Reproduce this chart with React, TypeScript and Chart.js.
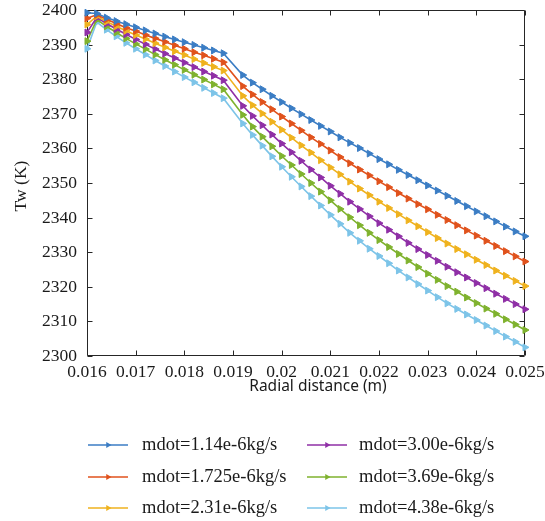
import React, { useEffect, useRef } from 'react';
import { Chart, registerables } from 'chart.js';

Chart.register(...registerables);

// ---- data ----
const radialDistance = [
  0.016, 0.0162, 0.0164, 0.0166, 0.0168, 0.017, 0.0172, 0.0174, 0.0176, 0.0178, 0.018, 0.0182, 0.0184, 0.0186, 0.0188,
  0.0192, 0.0194, 0.0196, 0.0198, 0.02, 0.0202, 0.0204, 0.0206, 0.0208, 0.021, 0.0212, 0.0214, 0.0216, 0.0218, 0.022,
  0.0222, 0.0224, 0.0226, 0.0228, 0.023, 0.0232, 0.0234, 0.0236, 0.0238, 0.024, 0.0242, 0.0244, 0.0246, 0.0248, 0.025,
];

const seriesLabels = [
  'mdot=1.14e-6kg/s',
  'mdot=1.725e-6kg/s',
  'mdot=2.31e-6kg/s',
  'mdot=3.00e-6kg/s',
  'mdot=3.69e-6kg/s',
  'mdot=4.38e-6kg/s',
];

const tw114 = [
  2399.2, 2399.0, 2397.8, 2396.8, 2395.9, 2395.0, 2394.1, 2393.2, 2392.3, 2391.5, 2390.7, 2389.9, 2389.1, 2388.3, 2387.5,
  2381.2, 2379.0, 2377.1, 2375.2, 2373.4, 2371.6, 2369.9, 2368.2, 2366.5, 2364.9, 2363.2, 2361.6, 2360.1, 2358.5, 2356.9,
  2355.4, 2353.8, 2352.3, 2350.8, 2349.3, 2347.8, 2346.3, 2344.8, 2343.3, 2341.8, 2340.4, 2338.9, 2337.4, 2336.0, 2334.6,
];
const tw1725 = [
  2397.6, 2398.6, 2397.3, 2396.1, 2394.9, 2393.9, 2392.8, 2391.8, 2390.8, 2389.8, 2388.8, 2387.8, 2386.9, 2385.9, 2384.9,
  2378.0, 2375.6, 2373.4, 2371.3, 2369.2, 2367.2, 2365.2, 2363.2, 2361.3, 2359.4, 2357.5, 2355.7, 2353.9, 2352.2, 2350.5,
  2348.8, 2347.1, 2345.5, 2343.9, 2342.4, 2340.8, 2339.3, 2337.8, 2336.3, 2334.8, 2333.3, 2331.8, 2330.3, 2328.8, 2327.3,
];
const tw231 = [
  2395.8, 2398.2, 2396.7, 2395.3, 2394.0, 2392.8, 2391.6, 2390.4, 2389.2, 2388.1, 2387.0, 2385.8, 2384.7, 2383.6, 2382.5,
  2375.2, 2372.5, 2370.1, 2367.7, 2365.4, 2363.1, 2360.9, 2358.8, 2356.6, 2354.5, 2352.5, 2350.4, 2348.4, 2346.5, 2344.6,
  2342.8, 2341.0, 2339.2, 2337.5, 2335.8, 2334.1, 2332.5, 2330.9, 2329.4, 2327.8, 2326.3, 2324.7, 2323.2, 2321.7, 2320.2,
];
const tw300 = [
  2393.5, 2397.8, 2396.1, 2394.5, 2393.0, 2391.5, 2390.1, 2388.7, 2387.4, 2386.1, 2384.8, 2383.5, 2382.2, 2381.0, 2379.7,
  2372.3, 2369.4, 2366.7, 2364.0, 2361.4, 2358.9, 2356.4, 2353.9, 2351.6, 2349.2, 2346.9, 2344.6, 2342.5, 2340.4, 2338.4,
  2336.5, 2334.6, 2332.7, 2330.9, 2329.2, 2327.5, 2325.8, 2324.2, 2322.7, 2321.1, 2319.6, 2318.0, 2316.5, 2315.0, 2313.5,
];
const tw369 = [
  2391.0, 2397.2, 2395.3, 2393.5, 2391.8, 2390.2, 2388.7, 2387.1, 2385.6, 2384.2, 2382.7, 2381.3, 2379.9, 2378.5, 2377.1,
  2369.7, 2366.3, 2363.4, 2360.6, 2357.8, 2355.2, 2352.6, 2350.0, 2347.5, 2345.0, 2342.5, 2340.1, 2337.8, 2335.6, 2333.5,
  2331.5, 2329.5, 2327.6, 2325.7, 2323.8, 2322.0, 2320.2, 2318.6, 2316.9, 2315.3, 2313.7, 2312.2, 2310.6, 2309.1, 2307.5,
];
const tw438 = [
  2388.8, 2396.5, 2394.3, 2392.4, 2390.5, 2388.8, 2387.1, 2385.4, 2383.8, 2382.2, 2380.6, 2379.1, 2377.5, 2376.0, 2374.5,
  2367.2, 2363.9, 2360.8, 2357.7, 2354.7, 2351.8, 2349.0, 2346.2, 2343.5, 2340.8, 2338.2, 2335.6, 2333.3, 2331.0, 2328.9,
  2326.8, 2324.7, 2322.7, 2320.8, 2318.9, 2317.0, 2315.2, 2313.6, 2312.0, 2310.4, 2308.8, 2307.2, 2305.6, 2304.1, 2302.5,
];

const seriesColors = ['#3b7dc4', '#e0521c', '#efb21e', '#8f2fa6', '#7fb22e', '#7dc4e8'];

const xTickValues = [0.016, 0.017, 0.018, 0.019, 0.02, 0.021, 0.022, 0.023, 0.024, 0.025];
const xTickLabels = ['0.016', '0.017', '0.018', '0.019', '0.02', '0.021', '0.022', '0.023', '0.024', '0.025'];
const yTickValues = [2300, 2310, 2320, 2330, 2340, 2350, 2360, 2370, 2380, 2390, 2400];
const yTickLabels = ['2300', '2310', '2320', '2330', '2340', '2350', '2360', '2370', '2380', '2390', '2400'];

const xTitle = 'Radial distance (m)';
const yTitle = 'Tw (K)';

const SERIF = '"Liberation Serif", serif';
const SANS = '"Noto Sans", sans-serif';
const AXIS_COLOR = '#262626';
const TEXT_COLOR = '#1a1a1a';

function drawTriangleRight(ctx: CanvasRenderingContext2D, x: number, y: number, r: number) {
  ctx.beginPath();
  ctx.moveTo(x + r, y);
  ctx.lineTo(x - r * 0.5, y - r * 0.866);
  ctx.lineTo(x - r * 0.5, y + r * 0.866);
  ctx.closePath();
  ctx.fill();
}

export default function App() {
  const canvasRef = useRef<HTMLCanvasElement | null>(null);

  useEffect(() => {
    const canvas = canvasRef.current;
    if (!canvas) return;
    const seriesValues = [tw114, tw1725, tw231, tw300, tw369, tw438];

    const datasets = seriesValues.map((vals, i) => ({
      label: seriesLabels[i],
      data: radialDistance.map((x, j) => ({ x, y: vals[j] })),
      borderColor: seriesColors[i],
      backgroundColor: seriesColors[i],
      pointBackgroundColor: seriesColors[i],
      pointBorderColor: seriesColors[i],
      borderWidth: 1.6,
      pointStyle: 'triangle',
      pointRotation: 90,
      pointRadius: 4,
      pointBorderWidth: 1,
      pointHoverRadius: 4,
      tension: 0,
      clip: false,
    }));

    const axesPlugin = {
      id: 'axesAndLegend',
      beforeDatasetsDraw(chart: any) {
        const { ctx, chartArea: a, scales } = chart;
        ctx.save();
        ctx.strokeStyle = AXIS_COLOR;
        ctx.lineWidth = 1;
        const L = Math.round(a.left) + 0.5;
        const R = Math.round(a.right) - 0.5;
        const T = Math.round(a.top) + 0.5;
        const B = Math.round(a.bottom) - 0.5;
        ctx.beginPath();
        ctx.rect(L, T, R - L, B - T);
        ctx.stroke();
        const tl = 5;
        ctx.beginPath();
        xTickValues.forEach((v) => {
          const px = Math.round(scales.x.getPixelForValue(v)) + 0.5;
          ctx.moveTo(px, B);
          ctx.lineTo(px, B - tl);
          ctx.moveTo(px, T);
          ctx.lineTo(px, T + tl);
        });
        yTickValues.forEach((v) => {
          const py = Math.round(scales.y.getPixelForValue(v)) + 0.5;
          ctx.moveTo(L, py);
          ctx.lineTo(L + tl, py);
          ctx.moveTo(R, py);
          ctx.lineTo(R - tl, py);
        });
        ctx.stroke();

        // tick labels
        ctx.fillStyle = TEXT_COLOR;
        ctx.font = `17.5px ${SERIF}`;
        ctx.textAlign = 'center';
        ctx.textBaseline = 'middle';
        xTickValues.forEach((v, i) => {
          ctx.fillText(xTickLabels[i], scales.x.getPixelForValue(v), a.bottom + 16.5);
        });
        ctx.textAlign = 'right';
        yTickValues.forEach((v, i) => {
          ctx.fillText(yTickLabels[i], a.left - 10, scales.y.getPixelForValue(v) + 0.5);
        });

        // y title
        ctx.save();
        ctx.translate(21, (a.top + a.bottom) / 2 + 3);
        ctx.rotate(-Math.PI / 2);
        ctx.textAlign = 'center';
        ctx.textBaseline = 'middle';
        ctx.font = `17.5px ${SERIF}`;
        ctx.fillText(yTitle, 0, 0);
        ctx.restore();

        // x title
        ctx.font = `15.5px ${SANS}`;
        ctx.textAlign = 'center';
        ctx.textBaseline = 'middle';
        ctx.fillText(xTitle, (a.left + a.right) / 2 + 12, a.bottom + 31);
        ctx.restore();
      },
      afterDraw(chart: any) {
        const { ctx } = chart;
        ctx.save();
        const rows = [445, 477, 508];
        const cols = [
          { lineStart: 88, textX: 142 },
          { lineStart: 307, textX: 359 },
        ];
        ctx.font = `18.5px ${SERIF}`;
        ctx.textBaseline = 'middle';
        ctx.textAlign = 'left';
        seriesLabels.forEach((label, i) => {
          const col = cols[Math.floor(i / 3)];
          const y = rows[i % 3];
          ctx.strokeStyle = seriesColors[i];
          ctx.fillStyle = seriesColors[i];
          ctx.lineWidth = 1.6;
          ctx.beginPath();
          ctx.moveTo(col.lineStart, y);
          ctx.lineTo(col.lineStart + 40, y);
          ctx.stroke();
          drawTriangleRight(ctx, col.lineStart + 20, y, 3.5);
          ctx.fillStyle = TEXT_COLOR;
          ctx.fillText(label, col.textX, y);
        });
        ctx.restore();
      },
    };

    const chart = new Chart(canvas, {
      type: 'line',
      data: { datasets },
      options: {
        responsive: false,
        animation: false,
        devicePixelRatio: 1,
        layout: { padding: { left: 0, top: 10, right: 20, bottom: 0 } },
        plugins: {
          legend: { display: false },
          tooltip: { enabled: false },
          title: { display: false },
        },
        scales: {
          x: {
            type: 'linear',
            min: 0.016,
            max: 0.025,
            grid: { display: false, drawTicks: false },
            border: { display: false },
            afterBuildTicks(scale: any) {
              scale.ticks = xTickValues.map((v) => ({ value: v }));
            },
            afterFit(scale: any) {
              scale.height = 165;
            },
            ticks: { display: false },
            title: { display: false },
          },
          y: {
            type: 'linear',
            min: 2300,
            max: 2400,
            grid: { display: false, drawTicks: false },
            border: { display: false },
            afterBuildTicks(scale: any) {
              scale.ticks = yTickValues.map((v) => ({ value: v }));
            },
            afterFit(scale: any) {
              scale.width = 87;
            },
            ticks: { display: false },
            title: { display: false },
          },
        },
      },
      plugins: [axesPlugin],
    } as any);

    return () => {
      chart.destroy();
    };
  }, []);

  return (
    <div style={{ position: 'absolute', left: 0, top: 0, width: 545, height: 521, background: '#ffffff' }}>
      <canvas ref={canvasRef} width={545} height={521} style={{ display: 'block', width: 545, height: 521 }} />
    </div>
  );
}
